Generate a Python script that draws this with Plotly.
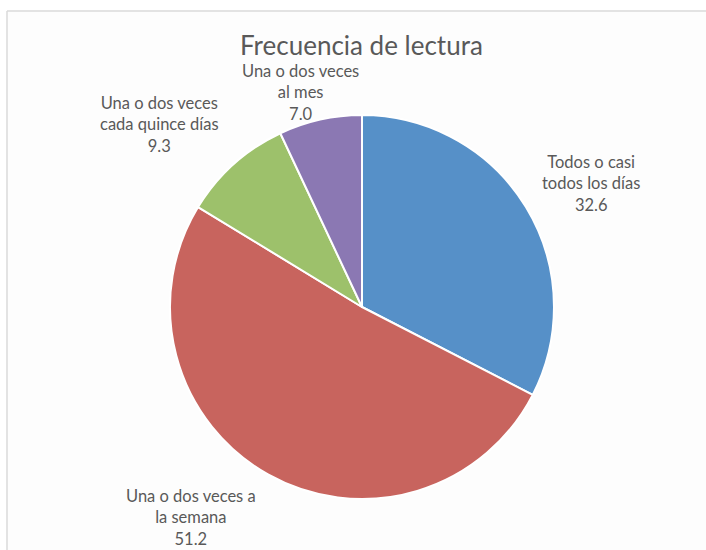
import plotly.graph_objects as go

title = "Frecuencia de lectura"
categories = ["Todos o casi<br>todos los días", "Una o dos veces a<br>la semana",
              "Una o dos veces<br>cada quince días", "Una o dos veces<br>al mes"]
values = [32.6, 51.2, 9.3, 7.0]
colors = ["#5690C8", "#C8645E", "#9DC16B", "#8B78B3"]

W, H = 706, 550
# label centre positions in pixels (layout only)
label_pos = [(591, 183), (191, 517), (159, 124), (300, 93)]

fig = go.Figure(go.Pie(
    labels=categories, values=values, sort=False, direction="clockwise", rotation=0,
    marker=dict(colors=colors, line=dict(color="white", width=2)),
    textinfo="none", hoverinfo="label+value", showlegend=False,
    domain=dict(x=[170 / W, 554 / W], y=[51 / H, 435 / H]),
))

annotations = []
for lab, val, (px, py) in zip(categories, values, label_pos):
    annotations.append(dict(
        x=px / W, y=1 - py / H, xref="paper", yref="paper",
        text=f"{lab}<br>{val:.1f}", showarrow=False, align="center",
        xanchor="center", yanchor="middle",
        font=dict(family="Lato", size=16.5, color="#595959"),
    ))
annotations.append(dict(
    x=362 / W, y=1 - 45 / H, xref="paper", yref="paper", text=title,
    showarrow=False, xanchor="center", yanchor="middle",
    font=dict(family="Lato", size=26, color="#595959"),
))

fig.update_layout(
    width=W, height=H, margin=dict(l=0, r=0, t=0, b=0),
    paper_bgcolor="white", plot_bgcolor="white",
    annotations=annotations,
    shapes=[
        dict(type="rect", xref="paper", yref="paper", x0=7 / W, x1=1.01, y0=-0.01, y1=1 - 11 / H,
             fillcolor="#FDFDFD", line=dict(width=0), layer="below"),
        dict(type="line", xref="paper", yref="paper", x0=7 / W, x1=7 / W, y0=-0.01, y1=1 - 11 / H,
             line=dict(color="#DADADA", width=1.5), layer="below"),
        dict(type="line", xref="paper", yref="paper", x0=7 / W, x1=1.01, y0=1 - 11 / H, y1=1 - 11 / H,
             line=dict(color="#DADADA", width=1.5), layer="below"),
    ],
)

fig.write_html(
    "out.html",
    config={"displayModeBar": False},
    post_script="document.body.style.margin='0';document.body.style.overflow='hidden';",
)
